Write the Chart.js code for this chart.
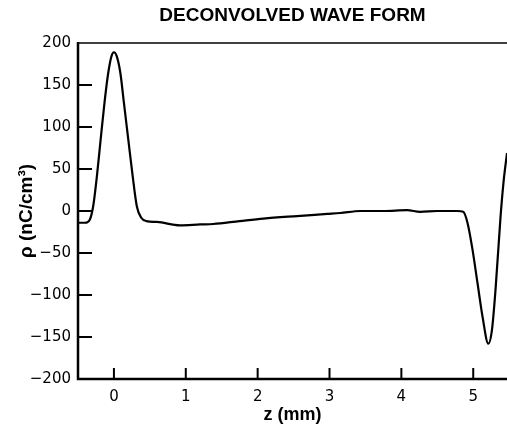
<!DOCTYPE html>
<html>
<head>
<meta charset="utf-8">
<script src="https://cdn.jsdelivr.net/npm/chart.js@4"></script>
<style>
  html, body { margin: 0; padding: 0; background: #fff; }
  canvas { display: block; }
</style>
</head>
<body>
<canvas id="waveChart" width="507" height="434"></canvas>
<script>
// z position (mm) and charge density (nC/cm^3)
const zValues = [-0.5, -0.4, -0.34, -0.29, -0.235, -0.185, -0.13, -0.08, -0.035, 0, 0.04, 0.09, 0.14, 0.2, 0.26, 0.32, 0.38, 0.45, 0.6,
  0.92, 1.2, 1.38, 1.75, 2.08, 2.55, 2.97, 3.15, 3.43, 3.75, 4.08, 4.26, 4.5, 4.78, 4.86,
  4.92, 4.99, 5.06, 5.13, 5.21, 5.26, 5.31, 5.38, 5.42, 5.47];
const rhoValues = [-14, -14, -11, 5, 43, 85, 130, 164, 184, 189, 184, 164, 128, 85, 42, 5, -8, -12, -13,
  -17, -16, -15.5, -12, -9, -6, -3.5, -2.4, 0, 0, 1, -1, 0, 0, -1,
  -14, -46, -86, -126, -158, -142, -94, -7, 33, 69];

const xTicks = [0, 1, 2, 3, 4, 5];
const yTicks = [-200, -150, -100, -50, 0, 50, 100, 150, 200];
const yTickLabels = ['\u2212200', '\u2212150', '\u2212100', '\u221250', '0', '50', '100', '150', '200'];

Chart.defaults.font.family = "'Liberation Sans', Arial, Helvetica, sans-serif";
Chart.defaults.color = '#000';
const tickFont = { family: "'DejaVu Sans', sans-serif", size: 15 };

// axes with inward ticks, drawn from the scales
const framePlugin = {
  id: 'frame',
  afterDraw(chart) {
    const { ctx, chartArea: a, scales: { x, y } } = chart;
    ctx.save();
    ctx.strokeStyle = '#000';
    ctx.lineWidth = 1.5;
    ctx.beginPath();
    ctx.moveTo(a.left, a.top);
    ctx.lineTo(a.right, a.top);
    ctx.stroke();

    ctx.lineWidth = 2.5;
    ctx.beginPath();
    ctx.moveTo(a.left, a.top - 1);
    ctx.lineTo(a.left, a.bottom);
    ctx.lineTo(a.right, a.bottom);
    ctx.stroke();

    ctx.lineWidth = 2;
    yTicks.forEach(v => {
      if (v === 200 || v === -200) return;
      const py = y.getPixelForValue(v);
      ctx.beginPath();
      ctx.moveTo(a.left, py);
      ctx.lineTo(a.left + 14, py);
      ctx.stroke();
    });
    xTicks.forEach(v => {
      const px = x.getPixelForValue(v);
      ctx.beginPath();
      ctx.moveTo(px, a.bottom);
      ctx.lineTo(px, a.bottom - 11);
      ctx.stroke();
    });
    ctx.restore();
  }
};

new Chart(document.getElementById('waveChart'), {
  type: 'line',
  data: {
    datasets: [{
      data: zValues.map((z, i) => ({ x: z, y: rhoValues[i] })),
      borderColor: '#000',
      borderWidth: 2.2,
      pointRadius: 0,
      cubicInterpolationMode: 'monotone',
      fill: false
    }]
  },
  options: {
    responsive: false,
    animation: false,
    layout: { padding: 0 },
    plugins: {
      legend: { display: false },
      tooltip: { enabled: false },
      title: {
        display: true,
        text: 'DECONVOLVED WAVE FORM',
        fullSize: false,
        font: { size: 19, weight: 'bold' },
        padding: { top: 4, bottom: 16.2 }
      }
    },
    scales: {
      x: {
        type: 'linear',
        min: -0.5,
        max: 5.47,
        grid: { display: false, drawTicks: false },
        border: { display: false },
        afterBuildTicks: scale => { scale.ticks = xTicks.map(v => ({ value: v })); },
        afterFit: scale => { scale.height = 55; },
        ticks: {
          font: tickFont,
          padding: 9,
          maxRotation: 0,
          callback: v => String(v)
        },
        title: {
          display: true,
          text: 'z (mm)',
          font: { size: 18, weight: 'bold' },
          padding: { top: 0, bottom: 8 }
        }
      },
      y: {
        min: -200,
        max: 200,
        grid: { display: false, drawTicks: false },
        border: { display: false },
        afterBuildTicks: scale => { scale.ticks = yTicks.map(v => ({ value: v })); },
        afterFit: scale => { scale.width = 78; },
        ticks: {
          font: tickFont,
          padding: 7,
          callback: v => yTickLabels[yTicks.indexOf(v)]
        },
        title: {
          display: true,
          text: '\u03c1 (nC/cm\u00b3)',
          font: { size: 19, weight: 'bold' },
          padding: { top: 15, bottom: 0 }
        }
      }
    }
  },
  plugins: [framePlugin]
});
</script>
</body>
</html>
